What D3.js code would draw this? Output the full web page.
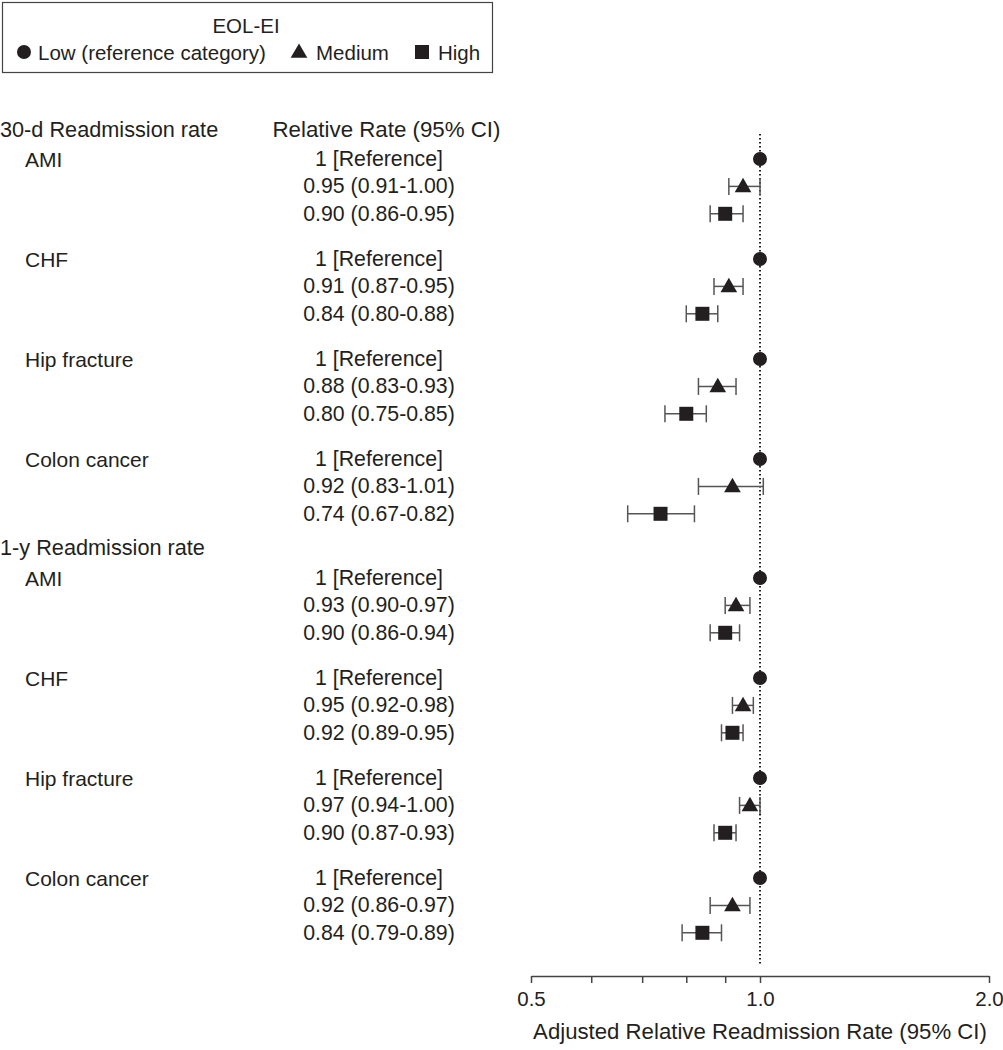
<!DOCTYPE html>
<html><head><meta charset="utf-8">
<script src="https://cdn.jsdelivr.net/npm/d3@7"></script>
<style>
body{margin:0;background:#fff;}
text{font-family:"Liberation Sans",Arial,sans-serif;fill:#231f20;}
</style></head>
<body><svg id="c" width="1003" height="1050"></svg>
<script>
const sections = ["30-d Readmission rate", "1-y Readmission rate"];
const conditions = ["AMI", "CHF", "Hip fracture", "Colon cancer"];
const levels = ["Low (reference category)", "Medium", "High"];
const legendTitle = "EOL-EI";
const columnHeader = "Relative Rate (95% CI)";
const axisTitle = "Adjusted Relative Readmission Rate (95% CI)";
const tickValues = [0.5, 0.6, 0.7, 0.8, 0.9, 1.0, 2.0];
const tickLabels = ["0.5", "", "", "", "", "1.0", "2.0"];
// Relative rates [condition][level]
const rr30 = [[1, 0.95, 0.90], [1, 0.91, 0.84], [1, 0.88, 0.80], [1, 0.92, 0.74]];
const lo30 = [[null, 0.91, 0.86], [null, 0.87, 0.80], [null, 0.83, 0.75], [null, 0.83, 0.67]];
const hi30 = [[null, 1.00, 0.95], [null, 0.95, 0.88], [null, 0.93, 0.85], [null, 1.01, 0.82]];
const rr1y = [[1, 0.93, 0.90], [1, 0.95, 0.92], [1, 0.97, 0.90], [1, 0.92, 0.84]];
const lo1y = [[null, 0.90, 0.86], [null, 0.92, 0.89], [null, 0.94, 0.87], [null, 0.86, 0.79]];
const hi1y = [[null, 0.97, 0.94], [null, 0.98, 0.95], [null, 1.00, 0.93], [null, 0.97, 0.89]];

const svg = d3.select("#c");
const FS = 20.5;
const ink = "#231f20";

// layout helpers
const rowStep = 27.4, groupStep = 100;
const secTop = [159, 578];     // y of first row in each section
const secHeader = [129, 547];
function rowY(s, c, l) { return secTop[s] + c * groupStep + l * rowStep; }

const x = d3.scaleLog().domain([0.5, 2]).range([531, 989]);
const symbols = [d3.symbolCircle, d3.symbolTriangle, d3.symbolSquare];
const symSize = [154, 120, 196];

// build rows
const sets = [[rr30, lo30, hi30], [rr1y, lo1y, hi1y]];
const rows = [];
sets.forEach((set, s) => {
  conditions.forEach((cond, c) => {
    levels.forEach((lev, l) => {
      rows.push({s, c, l, cond, rr: set[0][c][l], lo: set[1][c][l], hi: set[2][c][l]});
    });
  });
});
const fmt = d3.format(".2f");

// legend
svg.append("rect").attr("x", 2.5).attr("y", 2.5).attr("width", 490).attr("height", 70)
  .attr("fill", "none").attr("stroke", "#444").attr("stroke-width", 1.2);
svg.append("text").attr("x", 246).attr("y", 25).attr("text-anchor", "middle")
  .attr("dominant-baseline", "central").attr("font-size", FS).text(legendTitle);
const legX = [[24, 38], [299, 316], [422, 438]];
levels.forEach((lev, i) => {
  svg.append("path").attr("d", d3.symbol(symbols[i], symSize[i])())
    .attr("transform", `translate(${legX[i][0]},${i === 1 ? 53 : 52})`).attr("fill", ink);
  svg.append("text").attr("x", legX[i][1]).attr("y", 52).attr("dominant-baseline", "central")
    .attr("font-size", FS).text(lev);
});

// section headers
sections.forEach((s, i) => {
  svg.append("text").attr("x", 0).attr("y", secHeader[i]).attr("dominant-baseline", "central")
    .attr("font-size", 21.7).text(s);
});
svg.append("text").attr("x", 386.5).attr("y", secHeader[0]).attr("text-anchor", "middle")
  .attr("dominant-baseline", "central").attr("font-size", 22.3).text(columnHeader);

// condition labels
rows.filter(r => r.l === 0).forEach(r => {
  svg.append("text").attr("x", 25).attr("y", rowY(r.s, r.c, 0)).attr("dominant-baseline", "central")
    .attr("font-size", 21).text(r.cond);
});
// value text
svg.selectAll("text.val").data(rows).join("text").attr("class", "val")
  .attr("x", 379).attr("y", r => rowY(r.s, r.c, r.l)).attr("text-anchor", "middle")
  .attr("dominant-baseline", "central").attr("font-size", 21.3)
  .text(r => r.lo == null ? "1 [Reference]" : `${fmt(r.rr)} (${fmt(r.lo)}-${fmt(r.hi)})`);

// reference line
svg.append("line").attr("x1", x(1)).attr("x2", x(1)).attr("y1", 134).attr("y2", 965)
  .attr("stroke", ink).attr("stroke-width", 2).attr("stroke-dasharray", "1.5,2.5");

// error bars
const eb = rows.filter(r => r.lo != null);
const g = svg.append("g").attr("stroke", "#555").attr("stroke-width", 1.5);
eb.forEach(r => {
  const y = rowY(r.s, r.c, r.l);
  g.append("line").attr("x1", x(r.lo)).attr("x2", x(r.hi)).attr("y1", y).attr("y2", y);
  g.append("line").attr("x1", x(r.lo)).attr("x2", x(r.lo)).attr("y1", y - 8.5).attr("y2", y + 8.5);
  g.append("line").attr("x1", x(r.hi)).attr("x2", x(r.hi)).attr("y1", y - 8.5).attr("y2", y + 8.5);
});
// markers
svg.selectAll("path.mk").data(rows).join("path").attr("class", "mk")
  .attr("d", r => d3.symbol(symbols[r.l], symSize[r.l])())
  .attr("transform", r => `translate(${x(r.rr)},${rowY(r.s, r.c, r.l) + (r.l === 1 ? 1 : 0)})`)
  .attr("fill", ink);

// axis
const axis = d3.axisBottom(x).tickValues(tickValues)
  .tickFormat((d, i) => tickLabels[i]).tickSize(7).tickSizeOuter(0).tickPadding(8);
const ax = svg.append("g").attr("transform", "translate(0,976)").call(axis);
ax.select(".domain").attr("stroke", "#444").attr("stroke-width", 1.5);
ax.selectAll(".tick line").attr("stroke", "#444").attr("stroke-width", 1.5);
ax.selectAll(".tick text").attr("font-size", FS).attr("font-family", "Liberation Sans, Arial, sans-serif").attr("fill", ink);
svg.append("text").attr("x", 760).attr("y", 1031).attr("text-anchor", "middle")
  .attr("dominant-baseline", "central").attr("font-size", 22.2).text(axisTitle);
</script></body></html>
